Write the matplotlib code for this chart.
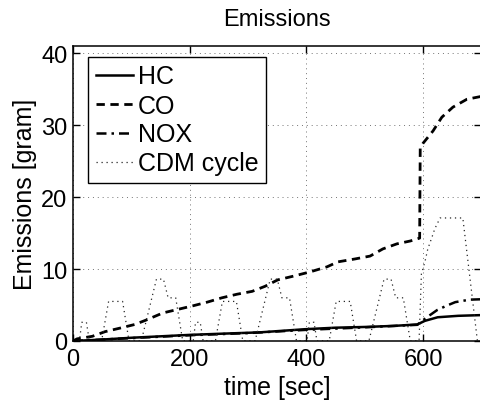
import matplotlib
matplotlib.use("Agg")
import matplotlib.pyplot as plt

plt.rcParams['font.family'] = ['Liberation Sans', 'DejaVu Sans']

# Cumulative emissions [gram] over time [sec]
hc_time = [0, 50, 100, 150, 200, 250, 320, 400, 450, 500, 550, 590, 603, 625, 660, 700]
hc_gram = [0, 0.2, 0.45, 0.65, 0.85, 1.0, 1.2, 1.65, 1.85, 1.95, 2.1, 2.3, 2.8, 3.3, 3.5, 3.6]

co_time = [0, 7, 33, 55, 81, 106, 125, 154, 180, 206, 230, 255, 281, 307, 329, 351,
           377, 406, 435, 454, 483, 509, 531, 555, 578, 594, 595, 600, 617, 632, 651,
           675, 700]
co_gram = [0, 0.3, 0.65, 1.3, 1.8, 2.3, 2.9, 3.9, 4.4, 4.9, 5.4, 6.0, 6.5, 6.9, 7.6, 8.5,
           9.0, 9.6, 10.3, 11.0, 11.4, 11.8, 12.8, 13.5, 13.9, 14.3, 26.8, 27.5, 29.2,
           31.1, 32.5, 33.6, 34.0]

nox_time = [0, 100, 200, 300, 400, 500, 590, 600, 610, 624, 640, 655, 680, 700]
nox_gram = [0, 0.4, 0.8, 1.1, 1.55, 1.9, 2.25, 2.9, 3.5, 4.3, 4.9, 5.4, 5.75, 5.8]

# Drive cycle profile (scaled speed)
cdm_time = [0, 11, 15, 23, 28, 49, 61, 85, 96, 117, 143, 155, 163, 176, 188,
            206, 210, 218, 223, 244, 256, 280, 291, 312, 338, 350, 358, 371, 383,
            401, 405, 413, 418, 439, 451, 475, 486, 507, 533, 545, 553, 566, 578,
            593, 597, 603, 608, 615, 620, 629, 668, 693, 700]
cdm_speed = [0, 0, 2.6, 2.6, 0, 0, 5.5, 5.5, 0, 0, 8.6, 8.6, 6.0, 6.0, 0,
             0, 2.6, 2.6, 0, 0, 5.5, 5.5, 0, 0, 8.6, 8.6, 6.0, 6.0, 0,
             0, 2.6, 2.6, 0, 0, 5.5, 5.5, 0, 0, 8.6, 8.6, 6.0, 6.0, 0,
             0, 9.3, 11.0, 12.8, 14.4, 15.6, 17.1, 17.1, 0, 0]

x_ticks = [0, 200, 400, 600]
y_ticks = [0, 10, 20, 30, 40]

W, H = 481, 406
fig = plt.figure(figsize=(W / 100, H / 100), dpi=100)
ax_l, ax_r, ax_t, ax_b = 73, 481.5, 47, 342
ax = fig.add_axes([ax_l / W, 1 - ax_b / H, (ax_r - ax_l) / W, (ax_b - ax_t) / H])

ax.plot(hc_time, hc_gram, color='black', lw=1.8, ls='-', label='HC')
ax.plot(co_time, co_gram, color='black', lw=2.0, ls=(0, (3, 2)), label='CO')
ax.plot(nox_time, nox_gram, color='black', lw=1.8, ls=(0, (4, 2, 1, 2)), label='NOX')
ax.plot(cdm_time, cdm_speed, color='0.15', lw=0.9, ls=(0, (1, 3)), label='CDM cycle')

ax.set_xlim(0, 700)
ax.set_ylim(0, 41)
ax.set_xticks(x_ticks)
ax.set_yticks(y_ticks)
ax.tick_params(direction='in', top=True, right=True, length=5, width=1)
ax.tick_params(axis='x', labelsize=17, pad=5)
ax.tick_params(axis='y', labelsize=17, pad=4)
for s in ax.spines.values():
    s.set_linewidth(1.1)
ax.grid(True, color='0.45', lw=0.7, ls=(0, (1, 4)))

ax.set_title('Emissions', fontsize=17, pad=15)
ax.set_xlabel('time [sec]', fontsize=18, labelpad=4)
ax.set_ylabel('Emissions [gram]', fontsize=18, labelpad=3)

leg = ax.legend(loc='upper left',
                bbox_to_anchor=((88 - ax_l) / (ax_r - ax_l), 1 - (58 - ax_t) / (ax_b - ax_t)),
                borderaxespad=0, fontsize=18, handlelength=1.5, handletextpad=0.2,
                labelspacing=0.2, borderpad=0.3, fancybox=False, framealpha=1,
                edgecolor='black')
leg.get_frame().set_linewidth(1.0)

fig.savefig('out.png', dpi=100)
